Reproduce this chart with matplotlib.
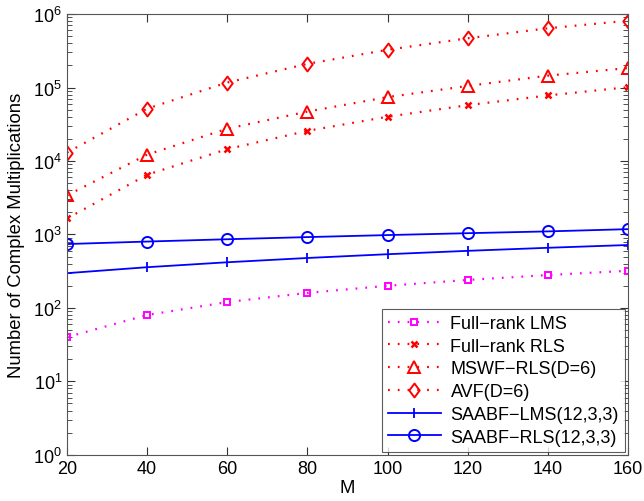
import matplotlib
matplotlib.use("Agg")
import matplotlib.pyplot as plt
from matplotlib.ticker import LogLocator, FixedLocator, NullLocator
from matplotlib.path import Path

plt.rcParams['font.family'] = ['Liberation Sans', 'DejaVu Sans']

M = [20, 40, 60, 80, 100, 120, 140, 160]
full_lms = [40, 80, 120, 160, 200, 240, 280, 320]
full_rls = [1650, 6500, 14500, 25700, 40000, 57500, 78000, 101000]
mswf_rls = [3400, 12200, 27500, 47000, 74000, 105000, 145000, 184000]
avf = [13000, 51500, 117000, 210000, 326000, 468000, 640000, 812000]
saabf_lms = [297, 358, 418, 478, 538, 598, 658, 718]
saabf_rls = [740, 800, 860, 920, 980, 1040, 1100, 1180]

diamond = Path([(0, 1), (0.75, 0), (0, -1), (-0.75, 0), (0, 1)],
               [Path.MOVETO, Path.LINETO, Path.LINETO, Path.LINETO, Path.CLOSEPOLY])
dot = (0, (0.8, 3.6))

fig = plt.figure(figsize=(6.44, 5.02), dpi=100)
ax = fig.add_axes([0.104, 0.092, 0.871, 0.878])

ax.plot(M, full_lms, linestyle=dot, color='#ff00ff', marker='s', ms=5, mfc='none', mew=1.4, lw=1.6, label='Full\u2212rank LMS')
ax.plot(M, full_rls, linestyle=dot, color='#ff0000', marker='x', ms=4.5, mew=1.8, lw=1.6, label='Full\u2212rank RLS')
ax.plot(M, mswf_rls, linestyle=dot, color='#ff0000', marker='^', ms=9, mfc='none', mew=1.4, lw=1.6, label='MSWF\u2212RLS(D=6)')
ax.plot(M, avf, linestyle=dot, color='#ff0000', marker=diamond, ms=10, mfc='none', mew=1.4, lw=1.6, label='AVF(D=6)')
ax.plot(M, saabf_lms, '-', color='#0000ff', marker='|', ms=7, mew=1.3, lw=1.3, label='SAABF\u2212LMS(12,3,3)')
ax.plot(M, saabf_rls, '-', color='#0000ff', marker='o', ms=8, mfc='none', mew=1.4, lw=1.3, label='SAABF\u2212RLS(12,3,3)')

ax.set_yscale('log')
ax.set_xlim(20, 160)
ax.set_ylim(1, 1e6)
ax.xaxis.set_major_locator(FixedLocator(M))
ax.xaxis.set_minor_locator(NullLocator())
ax.yaxis.set_major_locator(LogLocator(base=10, numticks=10))
ax.yaxis.set_minor_locator(LogLocator(base=10, subs=range(2, 10), numticks=100))
ax.tick_params(which='both', direction='in', top=True, right=True, labelsize=13, color='#333333')
ax.tick_params(which='major', length=6)
ax.tick_params(which='minor', length=3.5)
for s in ax.spines.values():
    s.set_color('#555555')
ax.set_xlabel('M', fontsize=13.3, labelpad=2)
ax.set_ylabel('Number of Complex Multiplications', fontsize=13.3, labelpad=6)

leg = ax.legend(loc='lower right', borderaxespad=0.15, fontsize=13, fancybox=False,
                edgecolor='#333333', handlelength=2.9, handletextpad=0.55,
                labelspacing=0.32, borderpad=0.35)
leg.get_frame().set_linewidth(0.8)

fig.savefig('out.png', dpi=100)
